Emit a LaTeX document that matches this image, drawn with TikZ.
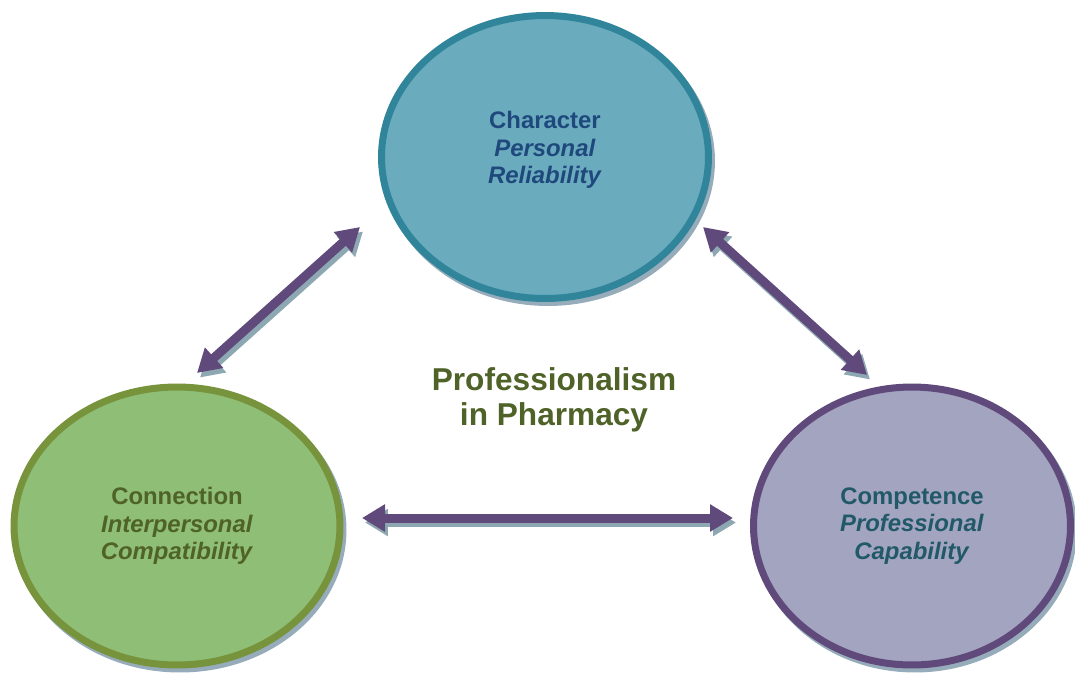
\documentclass[tikz,border=0pt]{standalone}
\usepackage{fontspec}
\setmainfont{Liberation Sans}
\usetikzlibrary{shapes.geometric,arrows.meta,shadows}

\begin{document}
\begin{tikzpicture}[x=0.02cm,y=-0.02cm,
  bubble/.style={ellipse,inner sep=0pt,line width=0.14cm,align=center,
    font=\fontsize{13.6}{15.6}\selectfont\bfseries,
    drop shadow={opacity=1,fill=shadowcolor,draw=shadowcolor,line width=0.14cm,
      shadow xshift=0.06cm,shadow yshift=-0.08cm}},
  twoway/.style={line width=0.18cm,
    {Triangle[width=0.52cm,length=0.46cm]}-{Triangle[width=0.52cm,length=0.46cm]}},
  twowayshadow/.style={twoway,draw=arrowshadow,
    transform canvas={shift={(0.06cm,-0.09cm)}}}]
\definecolor{charfill}{RGB}{106,171,190}
\definecolor{chardraw}{RGB}{49,133,155}
\definecolor{chartext}{RGB}{31,73,125}
\definecolor{connfill}{RGB}{143,190,118}
\definecolor{conndraw}{RGB}{119,147,60}
\definecolor{conntext}{RGB}{79,98,40}
\definecolor{compfill}{RGB}{163,164,192}
\definecolor{compdraw}{RGB}{96,73,123}
\definecolor{comptext}{RGB}{33,89,104}
\definecolor{arrowcolor}{RGB}{96,73,123}
\definecolor{arrowshadow}{RGB}{141,168,178}
\definecolor{shadowcolor}{RGB}{150,172,186}
\definecolor{titlecolor}{RGB}{79,98,40}
\useasboundingbox (0,0) rectangle (1075,674);
\node [bubble,fill=charfill,draw=chardraw,text=chartext,minimum width=6.54cm,minimum height=5.66cm,
  text depth=0.38cm]
  (character) at (545,157) {Character\\\textit{Personal}\\\textit{Reliability}};
\node [bubble,fill=connfill,draw=conndraw,text=conntext,minimum width=6.52cm,minimum height=5.56cm]
  (connection) at (177,526) {Connection\\\textit{Interpersonal}\\\textit{Compatibility}};
\node [bubble,fill=compfill,draw=compdraw,text=comptext,minimum width=6.34cm,minimum height=5.56cm]
  (competence) at (912,526) {Competence\\\textit{Professional}\\\textit{Capability}};
\node [align=center,text=titlecolor,font=\fontsize{18}{19.6}\selectfont\bfseries]
  (title) at (554,400) {Professionalism\\in Pharmacy};
\coordinate (conn-char) at (197,373);
\coordinate (char-conn) at (360,227);
\coordinate (char-comp) at (703,227);
\coordinate (comp-char) at (867,375);
\coordinate (conn-comp) at (362,518);
\coordinate (comp-conn) at (733,518);
\draw [twowayshadow] (conn-char) -- (char-conn);
\draw [twowayshadow] (char-comp) -- (comp-char);
\draw [twowayshadow] (conn-comp) -- (comp-conn);
\draw [twoway,draw=arrowcolor] (conn-char) -- (char-conn);
\draw [twoway,draw=arrowcolor] (char-comp) -- (comp-char);
\draw [twoway,draw=arrowcolor] (conn-comp) -- (comp-conn);
\end{tikzpicture}
\end{document}
